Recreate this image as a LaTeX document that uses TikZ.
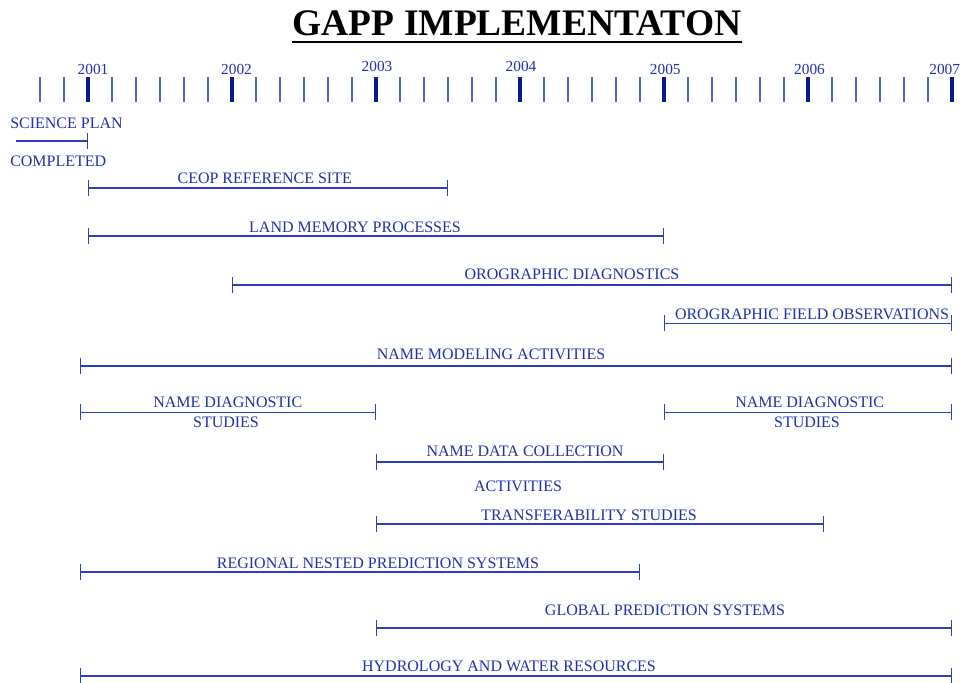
\documentclass[tikz,border=0pt]{standalone}
\usepackage{fontspec}
\setmainfont{Liberation Serif}
\usetikzlibrary{arrows.meta}
\definecolor{txtblue}{HTML}{1F30AA}
\definecolor{lineblue}{HTML}{2A3FC0}
\definecolor{tickdark}{HTML}{0A1A8C}
\definecolor{ticklight}{HTML}{5062C6}
\begin{document}
\begin{tikzpicture}[x=0.75pt,y=-0.75pt,
  lbl/.style={text=txtblue,font=\fontsize{12}{13}\selectfont,inner sep=0pt},
  yr/.style={text=txtblue,font=\fontsize{11.5}{13}\selectfont,inner sep=0pt},
  bar/.style={draw=lineblue,line width=1.1pt,{Bar[width=12pt]}-{Bar[width=12pt]}},
  halfbar/.style={draw=lineblue,line width=1.1pt,-{Bar[width=12pt]}},
  minortick/.style={draw=ticklight,line width=1.3pt},
  yeartick/.style={draw=tickdark,line width=2.6pt}]
\useasboundingbox (0,0) rectangle (960,682);
% title
\node (title) [inner sep=0pt,font=\bfseries\fontsize{28.1}{30}\selectfont] at (517,23) {GAPP IMPLEMENTATON};
\draw[line width=1.5pt] ([yshift=-5.2pt]title.base west) -- ([yshift=-5.2pt]title.base east);
% timeline ticks
\foreach \k in {0,...,38} {
  \pgfmathsetmacro\xx{40+24*\k}
  \draw[minortick] (\xx,77) -- (\xx,102);
}
\foreach \n in {0,...,6} {
  \pgfmathsetmacro\xx{88+144*\n}
  \draw[yeartick] (\xx,77) -- (\xx,102);
}
\node[yr] (y2001) at (93,69) {2001};
\node[yr] (y2002) at (236.5,69) {2002};
\node[yr] (y2003) at (377,66.7) {2003};
\node[yr] (y2004) at (521,66.7) {2004};
\node[yr] (y2005) at (665.3,69) {2005};
\node[yr] (y2006) at (809.5,69) {2006};
\node[yr] (y2007) at (944.7,69) {2007};
% science plan
\node[lbl,anchor=west] (sp1) at (10,123) {SCIENCE PLAN};
\node[lbl,anchor=west] (sp2) at (10,161.7) {COMPLETED};
\coordinate (spA) at (16,141);
\coordinate (spB) at (88,141);
\draw[halfbar] (spA) -- (spB);
% CEOP
\coordinate (ceA) at (88,188);
\coordinate (ceB) at (448,188);
\draw[bar] (ceA) -- (ceB);
\node[lbl] (ce) at (264.7,178.7) {CEOP REFERENCE SITE};
% land memory
\coordinate (lmA) at (88,236);
\coordinate (lmB) at (664,236);
\draw[bar] (lmA) -- (lmB);
\node[lbl] (lm) at (355,227) {LAND MEMORY PROCESSES};
% orographic diagnostics
\coordinate (odA) at (232,285);
\coordinate (odB) at (952,285);
\draw[bar] (odA) -- (odB);
\node[lbl] (od) at (572,274) {OROGRAPHIC DIAGNOSTICS};
% orographic field observations
\coordinate (ofA) at (664,323.3);
\coordinate (ofB) at (952,323.3);
\draw[bar] (ofA) -- (ofB);
\node[lbl] (of) at (812,314.7) {OROGRAPHIC FIELD OBSERVATIONS};
% NAME modeling
\coordinate (nmA) at (80,366);
\coordinate (nmB) at (952,366);
\draw[bar] (nmA) -- (nmB);
\node[lbl] (nm) at (491,354) {NAME MODELING ACTIVITIES};
% NAME diagnostic studies left
\coordinate (ndA) at (80,412.3);
\coordinate (ndB) at (376,412.3);
\draw[bar] (ndA) -- (ndB);
\node[lbl] (nd1) at (227.8,402.5) {NAME DIAGNOSTIC};
\node[lbl] (nd2) at (226,422) {STUDIES};
% NAME diagnostic studies right
\coordinate (neA) at (664,412.3);
\coordinate (neB) at (952,412.3);
\draw[bar] (neA) -- (neB);
\node[lbl] (ne1) at (809.7,402.5) {NAME DIAGNOSTIC};
\node[lbl] (ne2) at (807,422) {STUDIES};
% NAME data collection
\coordinate (dcA) at (376,462);
\coordinate (dcB) at (664,462);
\draw[bar] (dcA) -- (dcB);
\node[lbl] (dc1) at (525,451) {NAME DATA COLLECTION};
\node[lbl] (dc2) at (518,486) {ACTIVITIES};
% transferability
\coordinate (trA) at (376,524);
\coordinate (trB) at (824,524);
\draw[bar] (trA) -- (trB);
\node[lbl] (tr) at (589,515) {TRANSFERABILITY STUDIES};
% regional nested
\coordinate (rnA) at (80,572);
\coordinate (rnB) at (640,572);
\draw[bar] (rnA) -- (rnB);
\node[lbl] (rn) at (378,563) {REGIONAL NESTED PREDICTION SYSTEMS};
% global
\coordinate (gpA) at (376,628);
\coordinate (gpB) at (952,628);
\draw[bar] (gpA) -- (gpB);
\node[lbl] (gp) at (665,610) {GLOBAL PREDICTION SYSTEMS};
% hydrology
\coordinate (hyA) at (80,676);
\coordinate (hyB) at (952,676);
\draw[bar] (hyA) -- (hyB);
\node[lbl] (hy) at (509,666) {HYDROLOGY AND WATER RESOURCES};
\end{tikzpicture}
\end{document}
